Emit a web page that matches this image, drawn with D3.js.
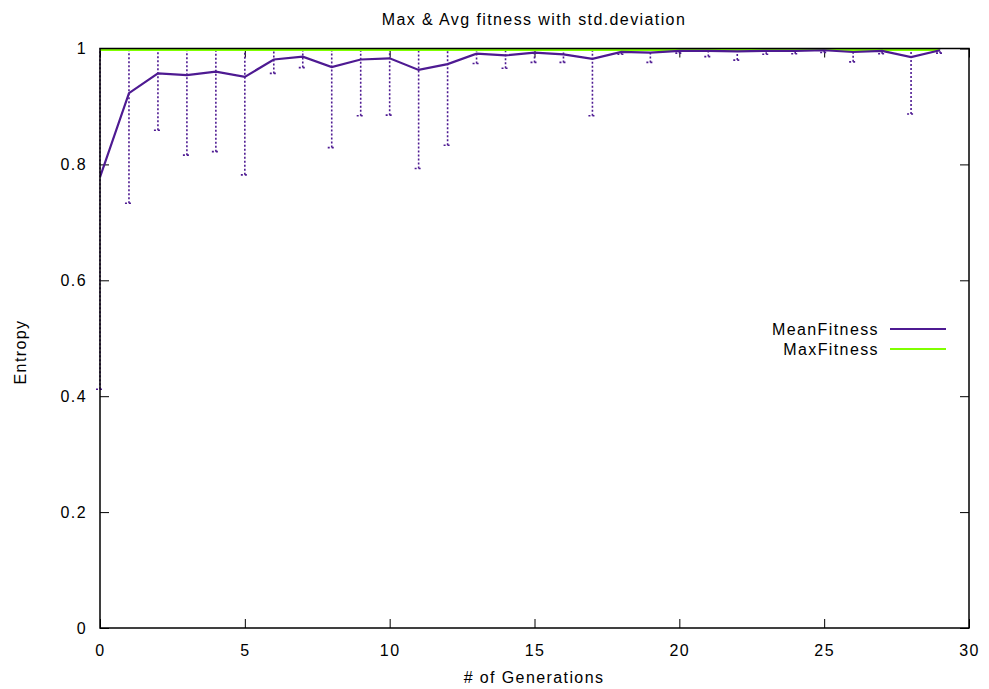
<!DOCTYPE html>
<html>
<head>
<meta charset="utf-8">
<script src="https://cdn.jsdelivr.net/npm/d3@7"></script>
<style>
  html, body { margin: 0; padding: 0; background: #fff; }
  svg text { font-family: "Liberation Sans", Arial, Helvetica, sans-serif; fill: #000; letter-spacing: 1.4px; }
</style>
</head>
<body>
<svg id="chart" width="989" height="689"></svg>
<script>
// Generation index for each sample
const generations = d3.range(0, 30);
// Average fitness of the population per generation
const meanFitness = [0.778, 0.923, 0.957, 0.954, 0.960, 0.951, 0.981, 0.986, 0.968, 0.981,
                     0.983, 0.963, 0.973, 0.991, 0.988, 0.993, 0.990, 0.982, 0.994, 0.993,
                     0.996, 0.996, 0.995, 0.996, 0.996, 0.997, 0.994, 0.996, 0.985, 0.997];
// Standard deviation of fitness per generation
const stdDev = [0.366, 0.190, 0.098, 0.138, 0.138, 0.169, 0.024, 0.019, 0.139, 0.097,
                0.098, 0.170, 0.140, 0.017, 0.022, 0.017, 0.014, 0.098, 0.004, 0.017,
                0.004, 0.010, 0.015, 0.006, 0.005, 0.004, 0.017, 0.005, 0.098, 0.005];
// Best fitness per generation
const maxFitness = generations.map(() => 1.0);
const xTicks = [0, 5, 10, 15, 20, 25, 30];
const yTicks = [0, 0.2, 0.4, 0.6, 0.8, 1];

const purple = "#4e1a92";
const green = "#80ff00";

const svg = d3.select("#chart");
const L = 100, R = 969, T = 48.5, B = 628;
const x = d3.scaleLinear().domain([0, 30]).range([L, R]);
const y = d3.scaleLinear().domain([0, 1]).range([B, T]);

const defs = svg.append("defs");
defs.append("clipPath").attr("id", "plotClip")
  .append("rect").attr("x", L).attr("y", T).attr("width", R - L).attr("height", B - T);
// Error bars are only cut off at the top and bottom of the plot
defs.append("clipPath").attr("id", "barClip")
  .append("rect").attr("x", L - 20).attr("y", T).attr("width", R - L + 40).attr("height", B - T);

// Axes with inward ticks, mirrored on the opposite sides
const tickLen = 9;
const fmtY = d => d === 0 ? "0" : d === 1 ? "1" : d3.format(".1f")(d);
const axisStyle = g => {
  g.select(".domain").remove();
  g.selectAll("line").attr("stroke", "#000").attr("stroke-width", 1);
  g.selectAll("text").attr("font-size", 16);
};
svg.append("g").attr("transform", `translate(0,${B})`)
  .call(d3.axisBottom(x).tickValues(xTicks).tickSize(-tickLen).tickPadding(17))
  .call(axisStyle);
svg.append("g").attr("transform", `translate(0,${T})`)
  .call(d3.axisTop(x).tickValues(xTicks).tickSize(-tickLen).tickFormat(""))
  .call(axisStyle);
svg.append("g").attr("transform", `translate(${L},0)`)
  .call(d3.axisLeft(y).tickValues(yTicks).tickSize(-tickLen).tickPadding(13).tickFormat(fmtY))
  .call(axisStyle);
svg.append("g").attr("transform", `translate(${R},0)`)
  .call(d3.axisRight(y).tickValues(yTicks).tickSize(-tickLen).tickFormat(""))
  .call(axisStyle);

// Std-deviation error bars (dotted)
const bars = svg.append("g").attr("clip-path", "url(#barClip)")
  .attr("stroke", purple).attr("stroke-width", 1.6)
  .attr("stroke-dasharray", "2,2").attr("fill", "none");
generations.forEach((g, i) => {
  const lo = meanFitness[i] - stdDev[i], hi = meanFitness[i] + stdDev[i];
  bars.append("line").attr("x1", x(g)).attr("x2", x(g)).attr("y1", y(lo)).attr("y2", y(hi));
  [lo, hi].forEach(v => {
    bars.append("line").attr("x1", x(g) - 4).attr("x2", x(g) + 4).attr("y1", y(v)).attr("y2", y(v));
  });
});

const plot = svg.append("g").attr("clip-path", "url(#plotClip)");
const line = d3.line().x((d, i) => x(generations[i])).y(d => y(d));
plot.append("path").datum(maxFitness).attr("d", line)
  .attr("fill", "none").attr("stroke", green).attr("stroke-width", 5);
plot.append("path").datum(meanFitness).attr("d", line)
  .attr("fill", "none").attr("stroke", purple).attr("stroke-width", 2.2)
  .attr("stroke-linejoin", "miter");

// Plot border
svg.append("rect").attr("x", L).attr("y", T).attr("width", R - L).attr("height", B - T)
  .attr("fill", "none").attr("stroke", "#000").attr("stroke-width", 1.5);

// Legend
const legend = [
  { name: "MeanFitness", color: purple, w: 2.2 },
  { name: "MaxFitness", color: green, w: 2 }
];
legend.forEach((d, i) => {
  const cy = 329 + i * 20;
  svg.append("text").attr("x", 879).attr("y", cy + 6).attr("text-anchor", "end")
    .attr("font-size", 16).text(d.name);
  svg.append("line").attr("x1", 890).attr("x2", 946).attr("y1", cy).attr("y2", cy)
    .attr("stroke", d.color).attr("stroke-width", d.w);
});

// Titles
svg.append("text").attr("x", 534).attr("y", 25).attr("text-anchor", "middle")
  .attr("font-size", 16).text("Max & Avg fitness with std.deviation");
svg.append("text").attr("x", 534).attr("y", 683).attr("text-anchor", "middle")
  .attr("font-size", 16).text("# of Generations");
svg.append("text").attr("transform", "translate(26,352) rotate(-90)")
  .attr("text-anchor", "middle").attr("font-size", 16).text("Entropy");
</script>
</body>
</html>
